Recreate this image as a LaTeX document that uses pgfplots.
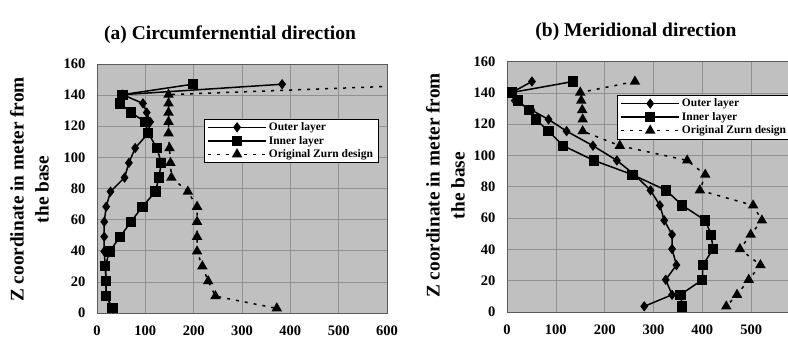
\documentclass[border=0pt]{standalone}
\usepackage{fontspec}
\setmainfont{Liberation Serif}
\usepackage{pgfplots}
\pgfplotsset{compat=1.18}
\usepackage{pgfplotstable}

\definecolor{bgcol}{RGB}{192,192,192}
\definecolor{gridcol}{RGB}{145,145,145}
\definecolor{framecol}{RGB}{90,90,90}

% Stress profiles along the tower height: z, outer layer, inner layer, original Zurn design
\pgfplotstableread{
z     outer  inner  zurn
147   383    198    720
140.3 53     53     148
134.7 95     48     148
128.8 103    70     148
122.8 110    100    148
115.5 106    106    148
106   79     124    150
96.5  66     133    152
87    57     128    154
78    28     121    188
68.3  19     94     207
58.6  15     70     207
49    15     48     207
39.6  15     26     207
30    17     17     218
20.5  19     19     230
10.8  19     19     245
3     32     32     372
}\circdata

\pgfplotstableread{
z     outer  inner  zurn
147.2 51     135    262
140.2 10     10     150
135   16     22     152
129   50     45     154
123   85     59     155
115.5 122    85     155
106.2 176    115    231
96.8  225    178    369
87.7  261    257    406
77.7  294    326    395
68.1  313    359    504
58.5  322    406    522
49.4  338    418    499
40.2  338    422    477
30    347    401    519
20.6  325    400    495
11    338    355    471
3.6   281    359    449
}\meridata

\pgfplotsset{
  panel/.style={
    scale only axis,
    anchor=south west,
    xmin=0, xmax=600, ymin=0, ymax=160,
    xtick={0,100,...,600}, ytick={0,20,...,160},
    grid=major,
    major grid style={gridcol, line width=0.6pt},
    major tick length=0pt,
    axis background/.style={fill=bgcol},
    axis line style={framecol, line width=0.8pt},
    /pgf/number format/assume math mode=true,
    ticklabel style={font=\fontsize{14.5}{16}\selectfont\bfseries},
    xticklabel style={yshift=-9pt},
    yticklabel style={xshift=-8pt},
    legend cell align=left,
    legend style={font=\fontsize{11.5}{13}\selectfont\bfseries,
      fill=white, draw=black, line width=0.6pt,
      inner xsep=3pt, inner ysep=1.5pt, row sep=0pt,
      anchor=north west},
    legend image code/.code={%
      \draw[mark repeat=2,mark phase=2,#1]
        plot coordinates {(0pt,0pt) (29pt,0pt) (58pt,0pt)};},
  },
  outerline/.style={black, line width=1.5pt, mark=diamond*, mark size=4pt},
  innerline/.style={black, line width=1.5pt, mark=square*, mark size=4.4pt},
  zurnline/.style={black, line width=1.5pt, dash pattern=on 3pt off 6pt,
    mark=triangle*, mark size=4.6pt, mark options={solid}},
}

\begin{document}
\begin{tikzpicture}
  % (a) circumferential stresses
  \begin{axis}[panel, at={(97pt,30pt)}, width=290pt, height=249pt,
      legend style={at={(rel axis cs:0.369,0.78)}}]
    \addplot[outerline] table[x=outer, y=z] {\circdata};
    \addplot[innerline] table[x=inner, y=z] {\circdata};
    \addplot[zurnline] table[x=zurn, y=z] {\circdata};
    \legend{Outer layer, Inner layer, Original Zurn design}
  \end{axis}
  \node[font=\fontsize{19.5}{22}\selectfont\bfseries] at (230pt,308pt)
    {(a) Circumfernential direction};
  \node[rotate=90, align=center, font=\fontsize{19.3}{25}\selectfont\bfseries]
    at (29.5pt,153.5pt) {Z coordinate in meter from\\the base};

  % (b) meridional stresses
  \begin{axis}[panel, at={(507pt,31pt)}, width=293pt, height=250.5pt,
      legend style={at={(rel axis cs:0.376,0.866)}}]
    \addplot[outerline] table[x=outer, y=z] {\meridata};
    \addplot[innerline] table[x=inner, y=z] {\meridata};
    \addplot[zurnline] table[x=zurn, y=z] {\meridata};
    \legend{Outer layer, Inner layer, Original Zurn design}
  \end{axis}
  \node[font=\fontsize{19.5}{22}\selectfont\bfseries] at (636pt,311pt)
    {(b) Meridional direction};
  \node[rotate=90, align=center, font=\fontsize{19.3}{25}\selectfont\bfseries]
    at (445.5pt,157.5pt) {Z coordinate in meter from\\the base};

  \pgfresetboundingbox
  \useasboundingbox (0pt,0pt) rectangle (788pt,343pt);
\end{tikzpicture}
\end{document}
